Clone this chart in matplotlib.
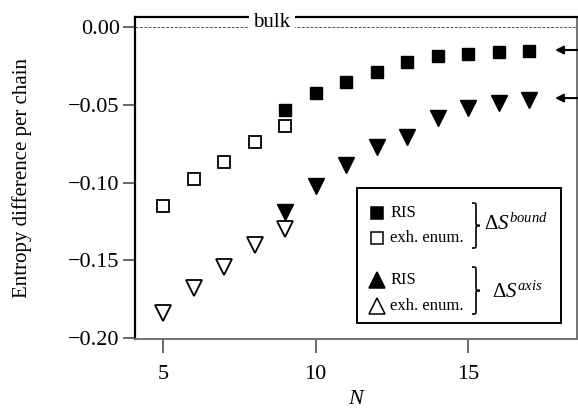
import numpy as np
import matplotlib
matplotlib.use('Agg')
import matplotlib.pyplot as plt
from matplotlib.path import Path
from matplotlib.patches import PathPatch, Rectangle

plt.rcParams['font.family'] = 'Liberation Serif'
plt.rcParams['mathtext.fontset'] = 'custom'
plt.rcParams['mathtext.rm'] = 'Liberation Serif'
plt.rcParams['mathtext.it'] = 'Liberation Serif:italic'

# data
n_bound_ris = [9, 10, 11, 12, 13, 14, 15, 16, 17]
s_bound_ris = [-0.0534, -0.0424, -0.0354, -0.0289, -0.0222, -0.0187, -0.0174, -0.0160, -0.0154]
n_bound_enum = [5, 6, 7, 8, 9]
s_bound_enum = [-0.115, -0.0977, -0.0868, -0.0740, -0.0637]

n_axis_ris = [9, 10, 11, 12, 13, 14, 15, 16, 17]
s_axis_ris = [-0.119, -0.102, -0.0887, -0.0772, -0.0707, -0.0585, -0.0521, -0.0489, -0.0469]
n_axis_enum = [5, 6, 7, 8, 9]
s_axis_enum = [-0.184, -0.168, -0.154, -0.140, -0.130]

limits = [-0.0148, -0.0457]  # asymptotes marked by arrows

fig = plt.figure(figsize=(5.78, 4.15), dpi=100)
ax = fig.add_axes([0.2336, 0.183, 0.7647, 0.776])

ax.axhline(0, color='0.35', lw=0.7, ls=(0, (3, 1.5)), zorder=1)
ax.text(8.57, 0.0030, 'bulk', ha='center', va='center', fontsize=15,
        bbox=dict(fc='white', ec='none', pad=3), zorder=10, clip_on=False)

ax.plot(n_bound_ris, s_bound_ris, 's', ms=9, color='black', zorder=3)
ax.plot(n_axis_ris, s_axis_ris, 'v', ms=12, color='black', zorder=3)
ax.plot(n_bound_enum, s_bound_enum, 's', ms=9, mfc='white', mec='black', mew=1.3, zorder=4)
ax.plot(n_axis_enum, s_axis_enum, 'v', ms=12, mfc='white', mec='black', mew=1.3, zorder=4)

for y in limits:
    ax.annotate('', xy=(17.85, y), xytext=(18.6, y),
                arrowprops=dict(arrowstyle='-|>', color='black', lw=1.5,
                                mutation_scale=12, shrinkA=0, shrinkB=0),
                annotation_clip=False)

ax.set_xlim(4.08, 18.57)
ax.set_ylim(-0.2006, 0.0064)
ax.set_xticks([5, 10, 15])
ax.set_yticks([0.0, -0.05, -0.10, -0.15, -0.20])
ax.set_yticklabels(['0.00', '\u22120.05', '\u22120.10', '\u22120.15', '\u22120.20'])
ax.tick_params(axis='both', direction='out', labelsize=16, color='0.3', width=1.2)
ax.tick_params(axis='x', length=10, pad=9)
ax.tick_params(axis='y', length=9, pad=2)

for side in ['left', 'top']:
    ax.spines[side].set_color('black')
    ax.spines[side].set_linewidth(1.6)
for side in ['bottom', 'right']:
    ax.spines[side].set_color('0.45')
    ax.spines[side].set_linewidth(1.4)

ax.set_xlabel('N', fontsize=16, style='italic', labelpad=4)
ax.set_ylabel('Entropy difference per chain', fontsize=15, labelpad=26)

# hand-made legend in axes coordinates
tr = ax.transAxes
ax.add_patch(Rectangle((0.502, 0.050), 0.462, 0.419, transform=tr, fc='white',
                       ec='black', lw=1.4, zorder=5))

def px(x, y):
    # figure pixel -> axes fraction
    return (x - 135) / 442, (339 - y) / 322

rows = [(213, 's', 'black', 'RIS', 8), (238, 's', 'white', 'exh. enum.', 8),
        (280, '^', 'black', 'RIS', 11), (306, '^', 'white', 'exh. enum.', 11)]
for y, m, fc, label, ms in rows:
    mx, my = px(377, y)
    ax.plot([mx], [my], m, ms=ms, mfc=fc, mec='black', mew=1.1, transform=tr,
            clip_on=False, zorder=6)
    tx, ty = px(390, y)
    ax.text(tx, ty, label, transform=tr, fontsize=12, va='center', ha='left', zorder=6)

def brace(x0, ytop, ybot, w):
    ym = (ytop + ybot) / 2
    d = 4
    xm = x0 + w / 2
    verts = [(x0, ytop), (xm, ytop), (xm, ytop), (xm, ytop + d),
             (xm, ym - d), (xm, ym), (xm, ym), (x0 + w, ym),
             (xm, ym), (xm, ym), (xm, ym + d),
             (xm, ybot - d), (xm, ybot), (xm, ybot), (x0, ybot)]
    codes = [Path.MOVETO, Path.CURVE4, Path.CURVE4, Path.CURVE4,
             Path.LINETO, Path.CURVE4, Path.CURVE4, Path.CURVE4,
             Path.CURVE4, Path.CURVE4, Path.CURVE4,
             Path.LINETO, Path.CURVE4, Path.CURVE4, Path.CURVE4]
    verts = [px(x, y) for x, y in verts]
    ax.add_patch(PathPatch(Path(verts, codes), transform=tr, fc='none', ec='black',
                           lw=1.2, clip_on=False, zorder=6))

brace(472, 203, 248, 8)
brace(472, 267, 314, 8)

bx, by = px(484, 224)
ax.text(bx, by, r'$\Delta S^{bound}$', transform=tr, fontsize=15, va='center', ha='left', zorder=6)
bx, by = px(492, 292)
ax.text(bx, by, r'$\Delta S^{axis}$', transform=tr, fontsize=15, va='center', ha='left', zorder=6)

fig.savefig('out.png', dpi=100)
